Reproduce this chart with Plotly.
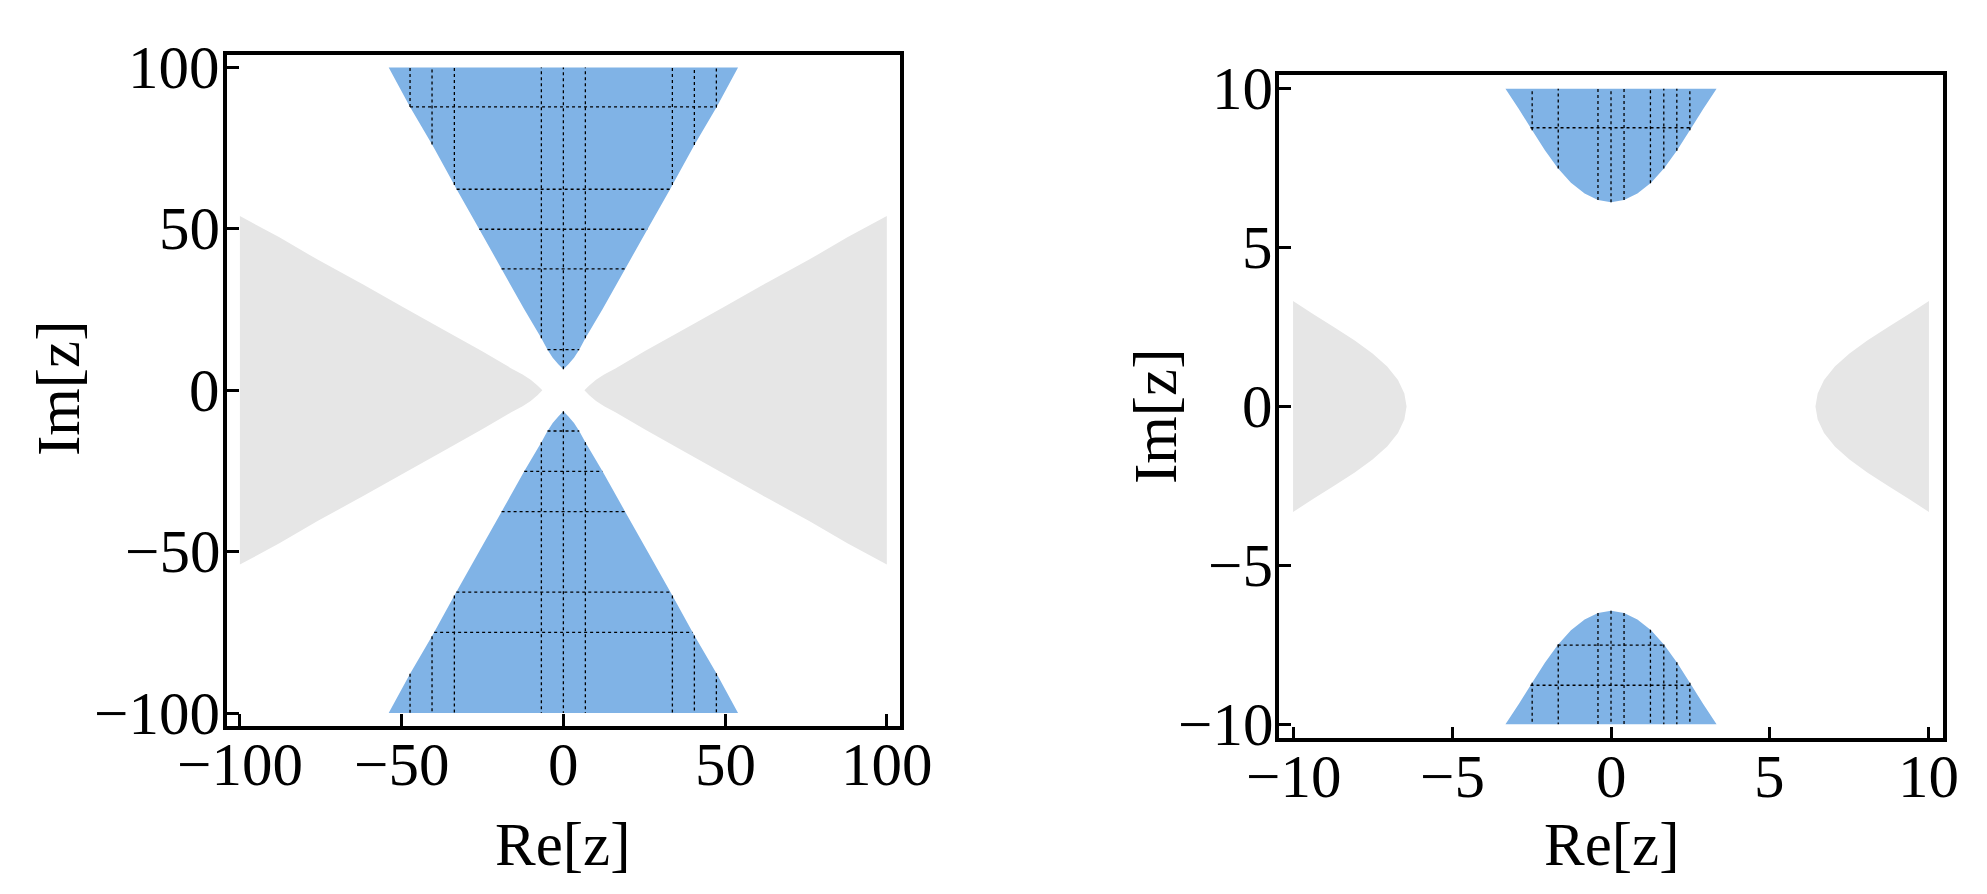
import numpy as np
import plotly.graph_objects as go

# boundary of the blue region (|Re z| -> Im z)
left_bound_abs = [0, 1.5, 3.3, 4.9, 6.8, 12.1, 19.1, 26.0, 33.0, 33.7, 40.5, 47.4, 54.0]
left_bound_y = [6.5, 8.0, 10.1, 12.6, 16.1, 25.1, 37.6, 49.9, 62.3, 63.6, 76.0, 87.8, 100.0]
left_mesh_x = [-47.4, -40.6, -33.7, -6.8, 0, 6.8, 33.7, 40.5, 47.3]
left_mesh_y_top = [87.8, 62.3, 49.9, 37.6, 12.6]
left_mesh_y_bot = [-12.6, -25.1, -37.6, -62.5, -75.0]
left_ticks = [-100, -50, 0, 50, 100]
left_ticktext = ['\u2212100', '\u221250', '0', '50', '100']

right_bound_abs = [0, 0.41, 0.83, 1.26, 1.67, 2.08, 2.5, 2.9, 3.32]
right_bound_y = [6.43, 6.50, 6.70, 7.04, 7.50, 8.06, 8.72, 9.36, 10.0]
right_mesh_x = [-2.48, -1.66, -0.41, 0, 0.41, 1.24, 1.66, 2.07, 2.48]
right_mesh_y_top = [8.77]
right_mesh_y_bot = [-7.51, -8.77]
right_ticks = [-10, -5, 0, 5, 10]
right_ticktext = ['\u221210', '\u22125', '0', '5', '10']

BLUE = '#80B3E6'
GRAY = '#E6E6E6'
FONT = 'Liberation Serif'
FSIZE = 61
W, H = 1987, 894

fig = go.Figure()


def add_panel(bx, by, mesh_x, mesh_top, mesh_bot, xa, ya):
    bx = np.array(bx)
    by = np.array(by)
    # closed outline of the upper region, left to right along the boundary
    px = np.concatenate([-bx[::-1], bx[1:]])
    py = np.concatenate([by[::-1], by[1:]])
    shapes = [(px, py, BLUE), (px, -py, BLUE), (-py, px, GRAY), (py, px, GRAY)]
    for sx, sy, col in shapes:
        fig.add_trace(go.Scatter(x=sx, y=sy, fill='toself', fillcolor=col,
                                 mode='none', hoverinfo='skip', showlegend=False,
                                 xaxis=xa, yaxis=ya))
    # mesh lines clipped to the blue regions
    ytop = by[-1]
    mx, my = [], []
    for x in mesh_x:
        y0 = np.interp(abs(x), bx, by)
        mx += [x, x, None, x, x, None]
        my += [y0, ytop, None, -y0, -ytop, None]
    for y in mesh_top + mesh_bot:
        h = np.interp(abs(y), by, bx)
        mx += [-h, h, None]
        my += [y, y, None]
    fig.add_trace(go.Scatter(x=mx, y=my, mode='lines',
                             line=dict(color='black', width=1.3, dash='3px,3px'),
                             hoverinfo='skip', showlegend=False,
                             xaxis=xa, yaxis=ya))


add_panel(left_bound_abs, left_bound_y, left_mesh_x, left_mesh_y_top, left_mesh_y_bot, 'x', 'y')
add_panel(right_bound_abs, right_bound_y, right_mesh_x, right_mesh_y_top, right_mesh_y_bot, 'x2', 'y2')


def axis(rng, vals, domain, anchor):
    return dict(range=rng, domain=domain, anchor=anchor, tickvals=vals,
                ticks='inside', ticklen=12, tickwidth=3, tickcolor='black',
                showline=True, linewidth=3.5, linecolor='black', mirror=True,
                showgrid=False, zeroline=False, automargin=False,
                showticklabels=False)


fig.update_layout(
    width=W, height=H,
    margin=dict(l=0, r=0, t=0, b=0),
    paper_bgcolor='white', plot_bgcolor='white',
    xaxis=axis([-104, 104], left_ticks, [0.1102, 0.4488], 'y'),
    yaxis=axis([-104, 104], left_ticks, [0.1969, 0.9478], 'x'),
    xaxis2=axis([-10.44, 10.44], right_ticks, [0.6397, 0.9738], 'y2'),
    yaxis2=axis([-10.44, 10.44], right_ticks, [0.1831, 0.9254], 'x2'),
)

tfont = dict(family=FONT, size=FSIZE, color='black')

# tick labels placed close to the frame, as in the original
for ticks, texts, xa, ya, xlab_y, ylab_x in [
    (left_ticks, left_ticktext, 'x', 'y', 756, 214),
    (right_ticks, right_ticktext, 'x2', 'y2', 768, 1267),
]:
    for v, t in zip(ticks, texts):
        fig.add_annotation(text=t, x=v, xref=xa, y=1 - xlab_y / H, yref='paper',
                           xanchor='center', yanchor='middle', showarrow=False, font=tfont)
        fig.add_annotation(text=t, x=ylab_x / W, xref='paper', y=v, yref=ya,
                           xanchor='right', yanchor='middle', showarrow=False, font=tfont)

titles = [
    ('Im[z]', 50, 381, -90),
    ('Re[z]', 554, 836, 0),
    ('Im[z]', 1147, 409, -90),
    ('Re[z]', 1603, 836, 0),
]
for txt, px_, py_, ang in titles:
    fig.add_annotation(text=txt, x=px_ / W, y=1 - py_ / H, xref='paper', yref='paper',
                       xanchor='center', yanchor='middle', textangle=ang, showarrow=False,
                       font=tfont)

fig.write_html("out.html")
